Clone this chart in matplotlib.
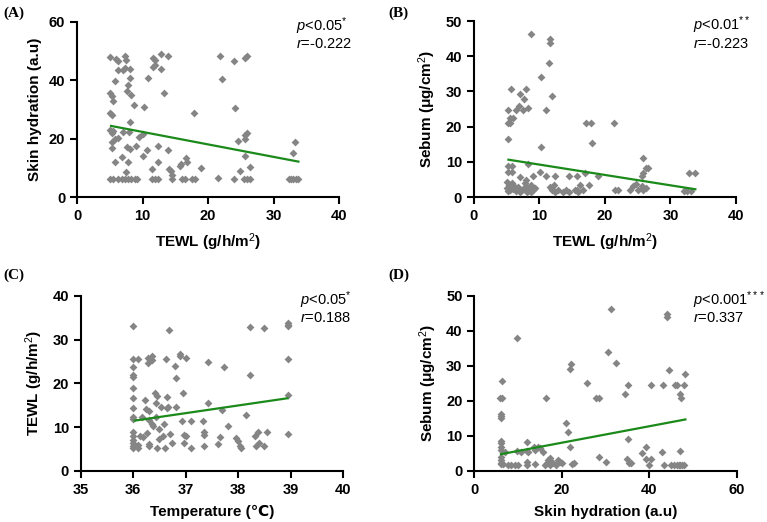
import matplotlib
matplotlib.use('Agg')
import matplotlib.pyplot as plt

plt.rcParams['font.family'] = ['Liberation Sans', 'DejaVu Sans']
plt.rcParams['mathtext.fontset'] = 'custom'
plt.rcParams['mathtext.rm'] = 'Liberation Sans'
plt.rcParams['mathtext.it'] = 'Liberation Sans:italic'
plt.rcParams['mathtext.bf'] = 'Liberation Sans:bold'

# (A) TEWL vs skin hydration
a_x = [5.0, 6.0, 6.3, 7.3, 7.5, 6.3, 7.0, 7.3, 8.1, 11.6, 11.9, 12.9, 13.9, 11.6, 11.9, 12.8,
       5.8, 8.1, 10.9, 7.8, 5.0, 5.4, 7.7, 8.2, 5.5, 13.3, 8.7, 10.3, 5.0, 5.3, 17.9, 8.1,
       5.0, 5.5, 5.3, 7.0, 7.9, 9.4, 10.1, 5.3, 5.8, 6.2, 7.7, 8.1, 9.0, 5.4, 10.7, 12.3,
       13.9, 5.8, 6.9, 7.8, 10.0, 12.4, 11.4, 7.5, 14.1, 14.3, 14.5, 15.7, 15.9, 16.8, 16.7, 19.0,
       5.0, 5.5, 6.3, 6.8, 7.3, 7.8, 8.3, 8.9, 9.1, 11.4, 11.9, 12.4, 14.5, 16.0, 16.5, 17.5,
       18.0, 21.5, 23.9, 25.5, 25.9, 26.4, 32.3, 32.7, 33.0, 33.4, 33.8,
       21.8, 23.9, 25.6, 25.9, 22.1, 24.1, 25.9, 25.7, 25.6, 24.6, 33.3, 33.0, 25.6, 26.4, 24.9]
a_y = [47.8, 47.3, 46.6, 48.1, 47.0, 43.5, 43.5, 44.1, 43.9, 47.5, 46.9, 48.9, 48.1, 44.3, 45.0, 43.8,
       39.5, 40.7, 40.7, 38.3, 35.5, 34.7, 36.1, 35.0, 32.7, 35.5, 31.5, 30.6, 28.7, 28.1, 28.7, 25.8,
       23.0, 22.6, 21.8, 22.1, 22.1, 20.6, 21.4, 18.9, 19.8, 20.3, 17.2, 16.4, 17.3, 16.6, 16.0, 17.4,
       16.0, 12.1, 13.7, 12.1, 13.9, 12.0, 9.7, 8.5, 9.7, 8.8, 7.6, 10.5, 11.3, 12.1, 13.3, 9.9,
       6.1, 6.1, 6.1, 6.1, 6.1, 6.1, 6.1, 6.1, 6.1, 6.1, 6.1, 6.1, 6.1, 6.1, 6.1, 6.1,
       6.1, 6.6, 6.1, 6.1, 6.1, 6.1, 6.1, 6.1, 6.1, 6.1, 6.1,
       48.1, 46.6, 47.5, 48.1, 40.3, 30.4, 21.8, 21.2, 19.8, 19.1, 18.7, 14.9, 14.0, 10.4, 9.0]
a_fit_x = [5.2, 33.8]
a_fit_y = [24.3, 12.1]

# (B) TEWL vs sebum
b_x = [8.8, 11.6, 11.6, 11.5, 10.3, 5.7, 7.0, 8.0, 7.6, 6.9, 6.4, 7.5, 8.3, 12.0, 5.2, 11.0,
       5.5, 6.0, 5.2, 5.5, 5.3, 10.2, 5.2, 5.8, 5.2, 5.8, 8.3, 7.0, 9.0, 10.1, 11.0, 12.4, 14.5, 15.8,
       5.1, 5.4, 5.8, 5.1, 5.5, 6.0, 6.5, 7.0, 7.6, 7.8, 8.1, 8.5, 8.8, 9.1, 9.3, 6.8, 7.3, 8.1,
       8.8, 5.9, 6.2, 7.9, 5.3, 6.4,
       11.6, 11.9, 12.4, 12.9, 13.6, 14.1, 14.6, 15.4, 15.9, 12.2, 12.0,
       16.9, 16.2, 17.6, 19.0, 15.7, 16.7, 17.2, 17.9, 18.1, 21.4, 21.5, 22.0, 23.8, 24.3, 24.7,
       25.0, 25.6, 25.8, 25.8, 26.2, 25.6, 25.8, 25.8, 26.3, 26.6, 32.1, 32.6, 33.1, 32.9, 33.8]
b_y = [46.3, 44.8, 43.8, 38.1, 34.2, 30.8, 29.3, 30.8, 27.8, 25.9, 24.7, 24.7, 25.2, 28.8, 24.7, 24.7,
       22.4, 22.4, 20.9, 20.9, 16.5, 14.2, 8.9, 8.9, 7.2, 7.2, 9.4, 5.8, 5.9, 7.0, 6.1, 6.1, 6.1, 6.1,
       4.3, 3.4, 3.9, 2.5, 2.0, 2.2, 2.0, 1.5, 2.5, 3.9, 2.9, 2.0, 3.4, 2.0, 2.5, 2.9, 2.0, 1.5,
       1.5, 2.9, 3.2, 4.7, 1.6, 1.6,
       2.9, 2.0, 1.5, 2.0, 1.5, 2.0, 1.5, 2.0, 1.5, 3.5, 2.4,
       6.7, 3.4, 3.4, 6.1, 1.9, 1.9, 20.9, 20.9, 15.2, 20.9, 1.9, 1.9, 1.9, 3.0, 3.8,
       1.9, 3.0, 2.5, 1.9, 2.5, 6.1, 6.8, 11.2, 8.1, 8.1, 1.7, 1.7, 1.7, 6.9, 6.9]
b_fit_x = [5.3, 33.8]
b_fit_y = [10.6, 2.2]

# (C) temperature vs TEWL
c_x = [36.0, 36.0, 36.1, 36.0, 36.0, 36.0, 36.0, 36.0, 36.0, 36.0, 36.0, 36.0, 36.0, 36.0, 36.0,
       36.0, 36.0, 36.1, 36.1, 36.16, 36.13, 36.18, 36.22, 36.24, 36.3, 36.27, 36.29, 36.35, 36.35,
       36.29, 36.3, 36.3, 36.3, 36.35, 36.38, 36.41, 36.46, 36.43, 36.43, 36.46, 36.52, 36.5, 36.5,
       36.56, 36.59, 36.6, 36.62, 36.64, 36.64, 36.67, 36.69, 36.7, 36.73, 36.8, 36.82, 36.82, 36.9,
       36.9, 36.94, 36.96, 36.92, 36.96, 37.0, 37.0, 37.1, 37.1, 37.32, 37.34, 37.34, 37.35, 37.43,
       37.43, 37.62, 37.65, 37.69, 37.73, 37.8,
       37.96, 38.0, 38.04, 38.06, 38.15, 38.22, 38.22, 38.32, 38.34, 38.38, 38.4, 38.49, 38.49, 38.54,
       38.94, 38.94, 38.95, 38.94, 38.94, 38.94]
c_y = [33.2, 25.6, 25.6, 23.7, 21.8, 21.5, 18.9, 16.6, 14.4, 12.3, 11.8, 9.0, 7.9, 7.1, 6.3,
       5.6, 5.2, 6.0, 5.2, 12.4, 7.9, 7.7, 16.3, 14.1, 13.8, 8.6, 25.8, 25.4, 26.2,
       24.7, 6.2, 5.6, 11.7, 10.8, 10.2, 17.9, 17.2, 15.6, 12.4, 5.2, 14.7, 9.5, 7.3,
       7.9, 10.8, 5.2, 25.6, 16.9, 14.4, 14.5, 32.1, 8.5, 6.3, 23.9, 21.3, 14.6, 26.3,
       26.6, 17.8, 6.3, 11.3, 8.2, 7.9, 25.8, 5.2, 11.3, 11.3, 9.0, 8.2, 5.7, 15.6,
       24.8, 6.2, 7.7, 14.0, 23.7, 10.2,
       7.5, 6.9, 5.6, 5.2, 12.8, 32.9, 22.0, 7.9, 5.6, 8.8, 6.3, 32.7, 5.8, 8.9,
       33.4, 33.1, 33.8, 25.6, 17.4, 8.5]
c_fit_x = [36.03, 38.94]
c_fit_y = [11.5, 16.6]

# (D) skin hydration vs sebum
d_x = [9.8, 6.3, 5.9, 6.4, 6.1, 6.1, 6.1, 6.1, 6.1, 6.1, 6.1, 6.1, 6.1, 6.1, 6.1, 6.6,
       7.0, 7.8, 8.5, 9.3, 10.1, 9.7, 10.8, 12.0, 12.4, 12.0, 12.0, 12.0, 13.7, 14.0, 14.5, 15.0,
       13.9, 15.8, 16.2, 16.6, 16.9, 17.3, 17.6, 17.3, 16.4, 18.1, 18.6, 19.2, 19.6, 20.0,
       21.0, 21.4, 21.9, 21.9, 22.1, 22.3, 22.9, 25.7, 27.9, 28.5, 28.5, 30.2,
       30.5, 31.2, 32.4, 34.5, 35.2, 35.2, 35.0, 35.5, 35.8, 38.3, 39.2, 39.2, 40.0, 40.5, 40.5,
       43.0, 43.2, 43.3, 44.1, 44.1, 44.5, 45.1, 45.8, 46.4, 46.8, 47.1, 47.6, 48.1, 45.9, 46.4,
       47.0, 47.3, 48.1, 48.3, 47.1]
d_y = [37.8, 25.8, 20.7, 20.7, 16.4, 15.7, 15.0, 8.6, 7.9, 6.9, 6.0, 4.1, 3.1, 2.4, 1.9, 1.9,
       5.5, 1.8, 1.8, 1.8, 1.8, 5.8, 5.5, 5.8, 5.5, 8.4, 2.7, 1.7, 6.9, 6.0, 6.9, 6.7,
       1.9, 5.5, 1.7, 2.4, 3.1, 3.6, 2.7, 1.7, 20.7, 2.4, 1.7, 3.1, 2.7, 2.4,
       13.8, 11.2, 6.9, 29.0, 30.5, 2.0, 2.2, 25.0, 20.7, 20.7, 3.9, 2.7,
       34.0, 46.2, 30.7, 22.1, 24.4, 9.0, 3.3, 2.2, 2.4, 5.0, 6.9, 3.3, 1.7, 3.3, 24.4,
       5.5, 24.4, 1.7, 44.7, 43.8, 28.8, 1.7, 1.7, 1.7, 1.7, 1.7, 1.7, 1.7, 24.4, 24.4,
       22.1, 20.7, 24.4, 27.7, 5.7]
d_fit_x = [6.1, 48.3]
d_fit_y = [4.8, 14.7]

W, H = 767, 522
fig = plt.figure(figsize=(W / 100, H / 100), dpi=100)


def px_axes(left, top, right, bottom):
    return fig.add_axes([left / W, 1 - bottom / H, (right - left) / W, (bottom - top) / H])


panels = [
    (px_axes(77, 21.5, 339, 197), a_x, a_y, a_fit_x, a_fit_y, (0, 40), (0, 60),
     [0, 10, 20, 30, 40], [0, 20, 40, 60], r'TEWL (g/h/m$^{2}$)', 'Skin hydration (a.u)',
     r'$p$<0.05$^{*}$', r'$r$=-0.222', '(A)', (3, 13)),
    (px_axes(473.7, 21, 736, 197), b_x, b_y, b_fit_x, b_fit_y, (0, 40), (0, 50),
     [0, 10, 20, 30, 40], [0, 10, 20, 30, 40, 50], r'TEWL (g/h/m$^{2}$)', r'Sebum (μg/cm$^{2}$)',
     r'$p$<0.01$^{**}$', r'$r$=-0.223', '(B)', (388, 13)),
    (px_axes(80.7, 295.7, 343.2, 471), c_x, c_y, c_fit_x, c_fit_y, (35, 40), (0, 40),
     [35, 36, 37, 38, 39, 40], [0, 10, 20, 30, 40], 'Temperature (℃)', r'TEWL (g/h/m$^{2}$)',
     r'$p$<0.05$^{*}$', r'$r$=0.188', '(C)', (3, 275)),
    (px_axes(474.3, 295.7, 736.5, 471), d_x, d_y, d_fit_x, d_fit_y, (0, 60), (0, 50),
     [0, 20, 40, 60], [0, 10, 20, 30, 40, 50], 'Skin hydration (a.u)', r'Sebum (μg/cm$^{2}$)',
     r'$p$<0.001$^{***}$', r'$r$=0.337', '(D)', (388, 275)),
]

for ax, xs, ys, fx, fy, xlim, ylim, xt, yt, xl, yl, ptxt, rtxt, tag, tagpos in panels:
    ax.scatter(xs, ys, marker='D', s=16, color='#858585', linewidths=0, zorder=3, clip_on=False)
    ax.plot(fx, fy, color='#1b8a1b', lw=1.6, zorder=4)
    ax.set_xlim(*xlim)
    ax.set_ylim(*ylim)
    ax.set_xticks(xt)
    ax.set_yticks(yt)
    for s in ['top', 'right']:
        ax.spines[s].set_visible(False)
    for s in ['left', 'bottom']:
        ax.spines[s].set_linewidth(1.5)
    ax.tick_params(width=1.5, length=5, labelsize=10.5)
    for lab in ax.get_xticklabels() + ax.get_yticklabels():
        lab.set_fontweight('bold')
    ax.set_xlabel(xl, fontsize=11, fontweight='bold', labelpad=6)
    ax.set_ylabel(yl, fontsize=11, fontweight='bold', labelpad=5)
    ax.text(0.835, 0.975, ptxt, transform=ax.transAxes, fontsize=10.5, va='center', ha='left')
    ax.text(0.835, 0.87, rtxt, transform=ax.transAxes, fontsize=10.5, va='center', ha='left')
    fig.text(tagpos[0] / W, 1 - tagpos[1] / H, tag, fontsize=11, fontweight='bold',
             family='Liberation Serif', va='center', ha='left')

fig.savefig('out.png', dpi=100)
